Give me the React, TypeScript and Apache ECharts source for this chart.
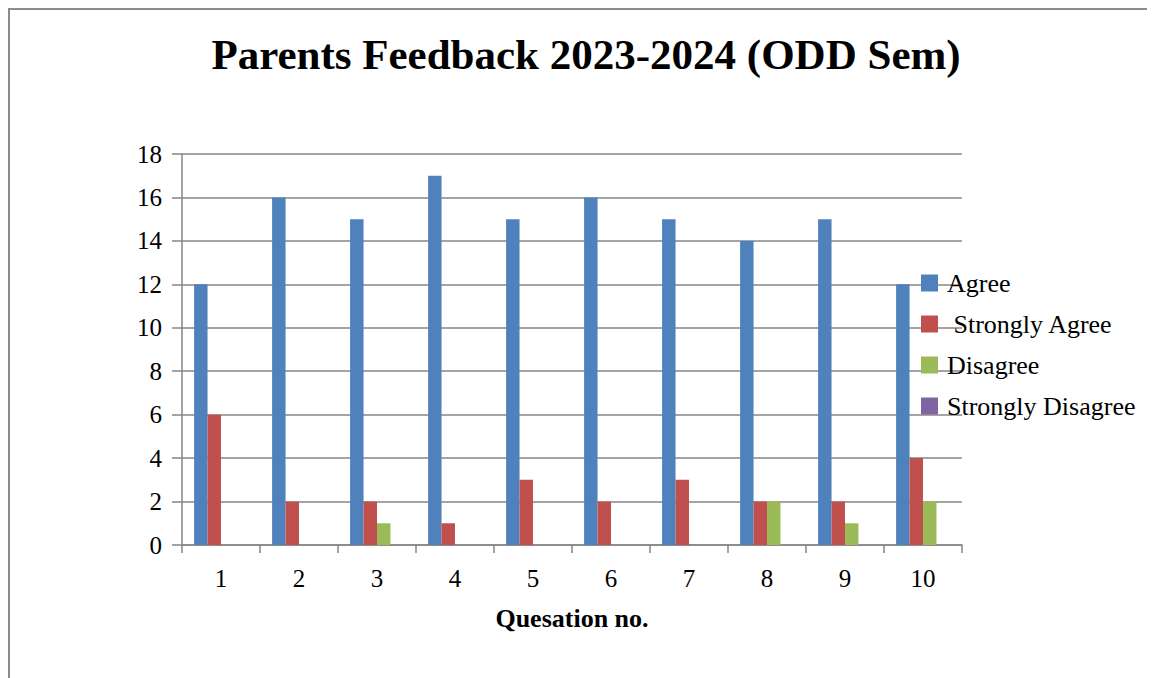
import React, { useEffect, useRef } from "react";
import * as echarts from "echarts";

const categories = ["1", "2", "3", "4", "5", "6", "7", "8", "9", "10"];
const agree = [12, 16, 15, 17, 15, 16, 15, 14, 15, 12];
const stronglyAgree = [6, 2, 2, 1, 3, 2, 3, 2, 2, 4];
const disagree = [0, 0, 1, 0, 0, 0, 0, 2, 1, 2];
const stronglyDisagree = [0, 0, 0, 0, 0, 0, 0, 0, 0, 0];
const seriesNames = ["Agree", " Strongly Agree", "Disagree", "Strongly Disagree"];
const colors = ["#4F81BD", "#C0504D", "#9BBB59", "#8064A2"];

const FONT = "'Liberation Serif', 'Times New Roman', serif";

export default function App() {
  const ref = useRef<HTMLDivElement>(null);
  useEffect(() => {
    if (!ref.current) return;
    const chart = echarts.init(ref.current, undefined, { renderer: "svg" });
    const data = [agree, stronglyAgree, disagree, stronglyDisagree];
    chart.setOption({
      animation: false,
      backgroundColor: "#ffffff",
      color: colors,
      title: {
        text: "Parents Feedback 2023-2024 (ODD Sem)",
        left: 573,
        textAlign: "center",
        top: 20,
        textStyle: { fontFamily: FONT, fontSize: 43, fontWeight: "bold", color: "#000" },
      },
      graphic: [
        {
          type: "rect",
          shape: { x: 1, y: 1, width: 2000, height: 2000 },
          style: { fill: "none", stroke: "#8c8c8c", lineWidth: 2 },
          silent: true,
        },
      ],
      legend: {
        orient: "vertical",
        left: 908,
        top: 257,
        itemWidth: 17,
        itemHeight: 17,
        itemGap: 15,
        icon: "rect",
        textStyle: { fontFamily: FONT, fontSize: 26, color: "#000", padding: [0, 0, 0, 4] },
        data: seriesNames,
      },
      grid: { left: 174, right: 193, top: 146, bottom: 133, containLabel: false },
      xAxis: {
        type: "category",
        data: categories,
        name: "Quesation no.",
        nameLocation: "middle",
        nameGap: 60,
        nameTextStyle: { fontFamily: FONT, fontSize: 26, fontWeight: "bold", color: "#000" },
        axisLine: { lineStyle: { color: "#868686", width: 1.5 } },
        axisTick: { show: true, length: 8, lineStyle: { color: "#868686", width: 1.5 } },
        axisLabel: { fontFamily: FONT, fontSize: 25, color: "#000", margin: 21 },
      },
      yAxis: {
        type: "value",
        min: 0,
        max: 18,
        interval: 2,
        axisLine: { show: true, lineStyle: { color: "#868686", width: 1.5 } },
        axisTick: { show: true, length: 10, lineStyle: { color: "#868686", width: 1.5 } },
        axisLabel: { fontFamily: FONT, fontSize: 25, color: "#000", margin: 20 },
        splitLine: { lineStyle: { color: "#868686", width: 1.5 } },
      },
      series: seriesNames.map((n, i) => ({
        name: n,
        type: "bar",
        data: data[i],
        barGap: "0%",
        barCategoryGap: "31%",
        itemStyle: { color: colors[i] },
      })),
    });
    return () => chart.dispose();
  }, []);
  return <div ref={ref} style={{ width: 1147, height: 670 }} />;
}
